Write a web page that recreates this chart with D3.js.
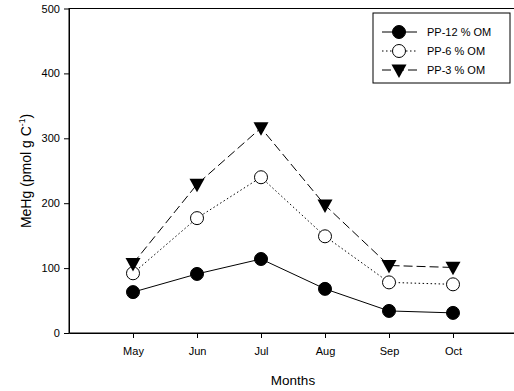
<!DOCTYPE html>
<html>
<head>
<meta charset="utf-8">
<script src="https://cdnjs.cloudflare.com/ajax/libs/d3/7.8.5/d3.min.js"></script>
<style>
  body { margin:0; background:#fff; }
  text { font-family: "Liberation Sans", Arial, sans-serif; fill:#000; }
</style>
</head>
<body>
<div id="chart"></div>
<script>
// months as numbers on a linear axis, 4..11 gives the empty space either side
const months = [5, 6, 7, 8, 9, 10];
const monthLabels = ["May", "Jun", "Jul", "Aug", "Sep", "Oct"];
const pp12 = [63, 91, 114, 68, 34, 31];
const pp6  = [92, 177, 240, 149, 78, 75];
const pp3  = [107, 229, 316, 197, 104, 101];
const yTicks = [0, 100, 200, 300, 400, 500];

const series = [
  { name: "PP-12 % OM", vals: pp12, dash: null,  sym: "fill" },
  { name: "PP-6 % OM",  vals: pp6,  dash: "1.5,2.5", sym: "open" },
  { name: "PP-3 % OM",  vals: pp3,  dash: "9,4", sym: "tri" }
];

const w = 514, h = 391;
const svg = d3.select("#chart").append("svg").attr("width", w).attr("height", h);

const x = d3.scaleLinear().domain([4, 11]).range([69, 517]);
const y = d3.scaleLinear().domain([0, 500]).range([333, 8.5]);

// frame (right side is off the window anyway)
svg.append("rect").attr("x", x(4)).attr("y", y(500))
  .attr("width", x(11) - x(4)).attr("height", y(0) - y(500))
  .attr("fill", "none").attr("stroke", "#000").attr("stroke-width", 1);

const gx = svg.append("g").attr("transform", `translate(0,${y(0)})`)
  .call(d3.axisBottom(x).tickValues(months).tickFormat((d, i) => monthLabels[i]).tickSize(5).tickSizeOuter(0));
const gy = svg.append("g").attr("transform", `translate(${x(4)},0)`)
  .call(d3.axisLeft(y).tickValues(yTicks).tickSize(5).tickSizeOuter(0));

[gx, gy].forEach(a => {
  a.select(".domain").attr("stroke", "#000");
  a.selectAll("text").attr("font-size", 11).attr("font-family", "Liberation Sans, Arial, sans-serif");
});
gx.selectAll("text").attr("dy", "1.25em");
gy.selectAll("text").attr("dx", "-0.1em");

// axis titles
svg.append("text").attr("x", 293).attr("y", 385).attr("text-anchor", "middle")
  .attr("font-size", 13.5).text("Months");
const yt = svg.append("text").attr("transform", "translate(31,171) rotate(-90)")
  .attr("text-anchor", "middle").attr("font-size", 14);
yt.append("tspan").text("MeHg (pmol g C");
yt.append("tspan").attr("font-size", 8.5).attr("dy", -6).text("-1");
yt.append("tspan").attr("dy", 6).text(")");

const line = d3.line().x((d, i) => x(months[i])).y(d => y(d));

function marker(g, sym, cx, cy) {
  if (sym === "tri") {
    const s = 7.5;
    g.append("path").attr("d", `M${cx - s},${cy - s * 0.75}L${cx + s},${cy - s * 0.75}L${cx},${cy + s * 1.05}Z`)
      .attr("fill", "#000");
  } else {
    g.append("circle").attr("cx", cx).attr("cy", cy).attr("r", 6.5)
      .attr("fill", sym === "fill" ? "#000" : "#fff").attr("stroke", "#000").attr("stroke-width", 1);
  }
}

series.forEach(s => {
  svg.append("path").datum(s.vals).attr("d", line)
    .attr("fill", "none").attr("stroke", "#000").attr("stroke-width", 1)
    .attr("stroke-dasharray", s.dash);
  const g = svg.append("g");
  s.vals.forEach((v, i) => marker(g, s.sym, x(months[i]), y(v)));
});

// legend
const lg = svg.append("g");
lg.append("rect").attr("x", 373).attr("y", 13).attr("width", 137).attr("height", 70)
  .attr("fill", "#fff").attr("stroke", "#000").attr("stroke-width", 1);
series.forEach((s, i) => {
  const ly = 32 + i * 19;
  lg.append("line").attr("x1", 382).attr("x2", 417).attr("y1", ly).attr("y2", ly)
    .attr("stroke", "#000").attr("stroke-dasharray", s.dash);
  marker(lg, s.sym, 399, ly);
  lg.append("text").attr("x", 427).attr("y", ly).attr("dy", "0.35em")
    .attr("font-size", 11).text(s.name);
});
</script>
</body>
</html>
